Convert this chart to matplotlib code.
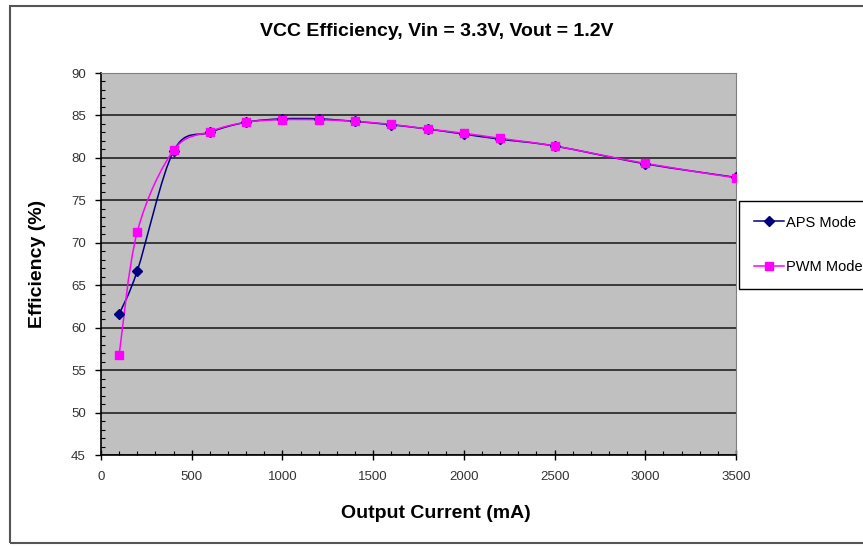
import numpy as np
import matplotlib
matplotlib.use("Agg")
import matplotlib.pyplot as plt
from matplotlib.path import Path
from matplotlib.patches import PathPatch, Rectangle
from matplotlib.lines import Line2D
from matplotlib.ticker import MultipleLocator

plt.rcParams["font.family"] = ["Liberation Sans", "DejaVu Sans"]

# Output current (mA) and efficiency (%)
current_ma = [100, 200, 400, 600, 800, 1000, 1200, 1400, 1600, 1800, 2000, 2200, 2500, 3000, 3500]
aps_mode = [61.6, 66.7, 80.8, 83.0, 84.2, 84.6, 84.6, 84.3, 83.9, 83.4, 82.8, 82.2, 81.4, 79.3, 77.7]
pwm_mode = [56.8, 71.3, 80.9, 83.1, 84.2, 84.5, 84.5, 84.3, 83.95, 83.4, 82.9, 82.3, 81.4, 79.35, 77.65]

series_names = ["APS Mode", "PWM Mode"]
series_colors = ["#000080", "#FF00FF"]
series_markers = ["D", "s"]


def smooth_path(x, y):
    # Excel-style smoothed line: cubic Bezier segments through each point
    pts = np.column_stack([x, y]).astype(float)
    verts = [pts[0]]
    codes = [Path.MOVETO]
    n = len(pts)
    for i in range(n - 1):
        p_prev = pts[i - 1] if i > 0 else pts[i]
        p_next = pts[i + 2] if i + 2 < n else pts[i + 1]
        c1 = pts[i] + (pts[i + 1] - p_prev) / 6.0
        c2 = pts[i + 1] - (p_next - pts[i]) / 6.0
        verts += [c1, c2, pts[i + 1]]
        codes += [Path.CURVE4] * 3
    return Path(verts, codes)


fig = plt.figure(figsize=(8.63, 5.46), dpi=100)
ax = fig.add_axes([101 / 863, 1 - 455 / 546, 635 / 863, 382 / 546])
ax.set_facecolor("#C0C0C0")

# outer chart border (cut off at the right like the original)
fig.patches.append(Rectangle((10 / 863, 3 / 546), 1.2, 537 / 546, transform=fig.transFigure,
                             fill=False, edgecolor="#555555", linewidth=1.5))

for vals, color, marker, ms in zip([aps_mode, pwm_mode], series_colors, series_markers, [5, 6]):
    ax.add_patch(PathPatch(smooth_path(current_ma, vals), facecolor="none",
                           edgecolor=color, linewidth=1.1, zorder=3))
    ax.plot(current_ma, vals, linestyle="none", marker=marker, markersize=ms,
            color=color, markeredgecolor=color, zorder=4)

ax.set_xlim(0, 3500)
ax.set_ylim(45, 90)
ax.xaxis.set_major_locator(MultipleLocator(500))
ax.xaxis.set_minor_locator(MultipleLocator(100))
ax.yaxis.set_major_locator(MultipleLocator(5))
ax.yaxis.set_minor_locator(MultipleLocator(1))
ax.grid(axis="y", which="major", color="#222222", linewidth=1.2)
ax.set_axisbelow(True)

for side in ["top", "right"]:
    ax.spines[side].set_color("#808080")
for side in ["left", "bottom"]:
    ax.spines[side].set_color("black")
    ax.spines[side].set_linewidth(1.2)

ax.tick_params(axis="x", which="major", direction="inout", length=7, width=1, labelsize=9.5,
               labelcolor="#333333", pad=8)
ax.tick_params(axis="y", which="major", direction="out", length=4, width=1, labelsize=9.5,
               labelcolor="#333333", pad=7)
ax.tick_params(which="minor", direction="in", length=3, width=0.8)

fig.text(437 / 863, 1 - 31 / 546, "VCC Efficiency, Vin = 3.3V, Vout = 1.2V",
         ha="center", va="center", fontsize=14, fontweight="bold")
fig.text(436 / 863, 1 - 513 / 546, "Output Current (mA)",
         ha="center", va="center", fontsize=14, fontweight="bold")
fig.text(37 / 863, 1 - 264 / 546, "Efficiency (%)", rotation=90,
         ha="center", va="center", fontsize=14, fontweight="bold")

handles = [Line2D([], [], color=c, marker=m, markersize=5.5, linewidth=1.1)
           for c, m in zip(series_colors, series_markers)]
leg = fig.legend(handles, series_names, loc="upper left",
                 bbox_to_anchor=(739 / 863, 1 - 201 / 546), fontsize=10.5,
                 frameon=True, fancybox=False, edgecolor="black", framealpha=1,
                 labelspacing=2.1, borderpad=1.0, handlelength=2.1, handletextpad=0.1,
                 borderaxespad=0)
leg.get_frame().set_linewidth(1.0)

fig.savefig("out.png", dpi=100)
